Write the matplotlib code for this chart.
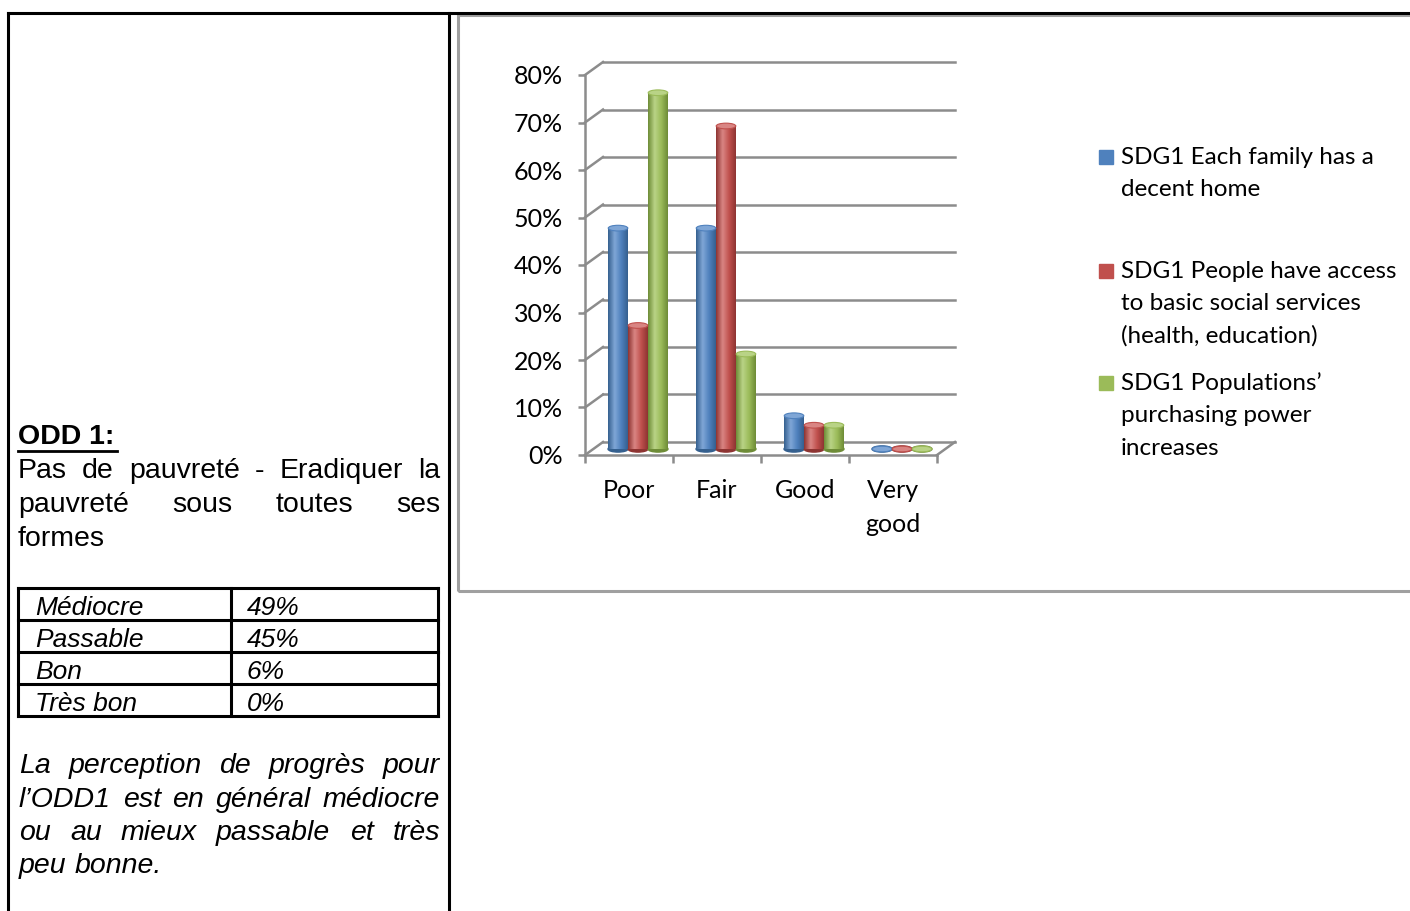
import numpy as np
import matplotlib
matplotlib.use("Agg")
import matplotlib.pyplot as plt
from matplotlib.lines import Line2D
from matplotlib.patches import Rectangle, Ellipse
from matplotlib.colors import LinearSegmentedColormap
import matplotlib.transforms as mtransforms

# data
categories = ["Poor", "Fair", "Good", "Very\ngood"]
series_names = [
    "SDG1 Each family has a\ndecent home",
    "SDG1 People have access\nto basic social services\n(health, education)",
    "SDG1 Populations’\npurchasing power\nincreases",
]
decent_home = [46.5, 46.5, 7, 0]
social_services = [26, 68, 5, 0]
purchasing_power = [75, 20, 5, 0]
yticks = [0, 10, 20, 30, 40, 50, 60, 70, 80]

table_labels = ["Médiocre", "Passable", "Bon", "Très bon"]
table_values = ["49%", "45%", "6%", "0%"]

colors = ["#4F81BD", "#C0504D", "#9BBB59"]
dark = ["#35608F", "#8E3432", "#6E8C37"]
light = ["#7FA6D6", "#D98583", "#B9D386"]

W, H = 1410, 911
fig = plt.figure(figsize=(W / 100, H / 100), dpi=100)
renderer = fig.canvas.get_renderer()


def fx(px):
    return px / W


def fy(py):
    return 1 - py / H


def hline(x0, x1, y, **kw):
    fig.add_artist(Line2D([fx(x0), fx(x1)], [fy(y), fy(y)], **kw))


def vline(x, y0, y1, **kw):
    fig.add_artist(Line2D([fx(x), fx(x)], [fy(y0), fy(y1)], **kw))


def justify(words, x0, x1, y, full=True, **kw):
    # spread the words of one line between x0 and x1 (like a justified paragraph)
    texts = [fig.text(0, fy(y), w, va="baseline", ha="left", **kw) for w in words]
    widths = [t.get_window_extent(renderer).width for t in texts]
    if full and len(words) > 1:
        gap = (x1 - x0 - sum(widths)) / (len(words) - 1)
    else:
        gap = 0.28 * kw.get("fontsize", 20) * 100 / 72
    x = x0
    for t, w in zip(texts, widths):
        t.set_x(fx(x))
        x += w + gap


# page table borders
black = dict(color="black", lw=2.2, solid_capstyle="projecting")
hline(8, 1410, 13, **black)
vline(8, 13, 911, **black)
vline(449, 13, 911, **black)

# left cell text
sans = "Liberation Sans"
fig.text(fx(18), fy(444), "ODD 1:", fontsize=20.5, fontweight="bold", family=sans, va="baseline")
hline(18, 117, 451, color="black", lw=2)
body = dict(fontsize=20.5, family=sans)
justify("Pas de pauvreté - Eradiquer la".split(), 18, 440, 478, **body)
justify("pauvreté sous toutes ses".split(), 18, 440, 512, **body)
justify(["formes"], 18, 440, 546, full=False, **body)

# small table
rows_y = [588, 620, 652, 684, 716]
for y in rows_y:
    hline(18, 438, y, **black)
for x in [18, 231, 438]:
    vline(x, 588, 716, **black)
for i, (lab, val) in enumerate(zip(table_labels, table_values)):
    fig.text(fx(35), fy(rows_y[i + 1] - 5), lab, fontsize=19, style="italic", family=sans, va="baseline")
    fig.text(fx(247), fy(rows_y[i + 1] - 5), val, fontsize=19, style="italic", family=sans, va="baseline")

# conclusion paragraph
ital = dict(fontsize=20.5, family=sans, style="italic")
justify("La perception de progrès pour".split(), 19, 440, 773, **ital)
justify("l’ODD1 est en général médiocre".split(), 19, 440, 807, **ital)
justify("ou au mieux passable et très".split(), 19, 440, 840, **ital)
justify("peu bonne.".split(), 19, 440, 873, full=False, **ital)

# chart frame
fig.add_artist(Rectangle((fx(458), fy(591)), fx(1500) - fx(458), fy(15) - fy(591),
                         fill=False, edgecolor="#A0A0A0", lw=2.2))

# chart axes (front plane)
ax = fig.add_axes([fx(585), fy(455), fx(937) - fx(585), fy(75) - fy(455)])
ax.set_xlim(0, 4)
ax.set_ylim(0, 80)
ax.patch.set_alpha(0)

grid_c = "#8C8C8C"
back = mtransforms.offset_copy(ax.transData, fig=fig, x=18, y=13, units="dots")
mid = mtransforms.offset_copy(ax.transData, fig=fig, x=9, y=6, units="dots")

# back wall gridlines and depth connectors
for v in yticks:
    ax.plot([0, 4], [v, v], color=grid_c, lw=1.8, transform=back, clip_on=False)
    p0 = ax.transData.transform((0, v))
    p1 = back.transform((0, v))
    fig.add_artist(Line2D([p0[0] / W, p1[0] / W], [p0[1] / H, p1[1] / H], color=grid_c, lw=1.8))
# floor right edge
p0 = ax.transData.transform((4, 0))
p1 = back.transform((4, 0))
fig.add_artist(Line2D([p0[0] / W, p1[0] / W], [p0[1] / H, p1[1] / H], color=grid_c, lw=1.8))

# cylinder bars
series = [decent_home, social_services, purchasing_power]
bw = 0.227
x = np.arange(len(categories)) + 0.5
for j, vals in enumerate(series):
    xs = x + (j - 1) * bw
    cmap = LinearSegmentedColormap.from_list("c%d" % j, [dark[j], light[j], colors[j], dark[j]])
    grad = np.linspace(0, 1, 64).reshape(1, -1)
    bars = ax.bar(xs, vals, width=bw, color=colors[j], transform=mid, clip_on=False,
                  edgecolor="none", zorder=3)
    for b, xc, v in zip(bars, xs, vals):
        im = ax.imshow(grad, cmap=cmap, aspect="auto", extent=(xc - bw / 2, xc + bw / 2, 0, v),
                       transform=mid, zorder=3.5, interpolation="bilinear")
        im.set_clip_path(b)
        ax.add_patch(Ellipse((xc, 0), bw, 1.3, transform=mid, color=dark[j], zorder=3.2, clip_on=False))
        ax.add_patch(Ellipse((xc, v), bw * 0.98, 1.2, transform=mid, facecolor=light[j],
                             edgecolor=colors[j], lw=0.8, zorder=4, clip_on=False))
ax.set_xlim(0, 4)
ax.set_ylim(0, 80)

# axes styling
for s in ["top", "right"]:
    ax.spines[s].set_visible(False)
for s in ["left", "bottom"]:
    ax.spines[s].set_color(grid_c)
    ax.spines[s].set_linewidth(1.8)
    ax.spines[s].set_zorder(2)

chart_font = "Lato"
ax.set_yticks(yticks)
ax.set_yticklabels(["%d%%" % v for v in yticks], family=chart_font, fontsize=18)
ax.tick_params(axis="y", length=5, width=1.8, color=grid_c, pad=11)
ax.set_xticks(x)
ax.set_xticklabels(categories, family=chart_font, fontsize=18, linespacing=1.6)
ax.tick_params(axis="x", which="major", length=0, pad=17)
ax.set_xticks(np.arange(5), minor=True)
ax.tick_params(axis="x", which="minor", length=6, width=1.8, color=grid_c)

# legend
leg_y = [[157, 190], [271, 303, 336], [383, 416, 448]]
for j, name in enumerate(series_names):
    ys = leg_y[j]
    fig.add_artist(Rectangle((fx(1099), fy(ys[0] + 7)), fx(14), 14 / H, color=colors[j]))
    for line, yy in zip(name.split("\n"), ys):
        fig.text(fx(1121), fy(yy), line, family=chart_font, fontsize=17.5, va="center")

fig.savefig("out.png", dpi=100)
